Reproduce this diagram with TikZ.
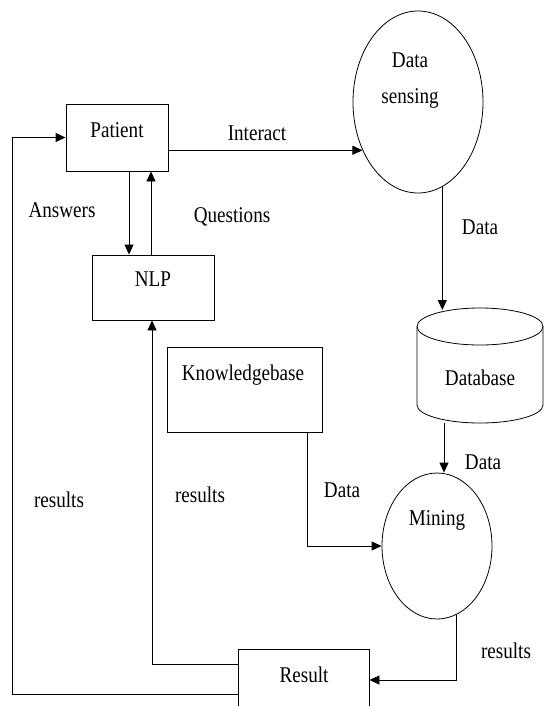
\documentclass[tikz,border=0pt]{standalone}
\usepackage{fontspec}
\setmainfont{Liberation Serif}[FakeStretch=0.85]
\usetikzlibrary{shapes.geometric,arrows.meta}
\begin{document}
\begin{tikzpicture}[x=1pt,y=-1pt,
  box/.style={draw,line width=0.9pt,inner sep=0pt},
  oval/.style={draw,ellipse,line width=0.8pt,inner sep=0pt},
  txt/.style={inner sep=0pt,font=\fontsize{22.5}{26}\selectfont},
  arr/.style={line width=0.9pt,-{Triangle[length=10pt,width=9pt]}},
  ln/.style={line width=0.9pt}]
\clip (0,0) rectangle (544,706);
\fill[white] (0,0) rectangle (544,706);
% boxes
\node[box,minimum width=102pt,minimum height=67pt] (patient) at (117,137.5) {};
\node[txt] (patientT) at (117,130) {Patient};
\node[box,minimum width=122pt,minimum height=65pt] (nlp) at (153,287.5) {};
\node[txt] (nlpT) at (153,279) {NLP};
\node[box,minimum width=155pt,minimum height=85pt] (kb) at (244.5,389.5) {};
\node[txt] (kbT) at (243,375) {Knowledgebase};
\node[box,minimum width=131pt,minimum height=72pt] (result) at (303.5,685) {};
\node[txt] (resultT) at (304,675) {Result};
% ellipses
\node[oval,minimum width=130pt,minimum height=182pt] (ds) at (418,102) {};
\node[txt] (dsT1) at (410,60) {Data};
\node[txt] (dsT2) at (410,98) {sensing};
\node[oval,minimum width=110pt,minimum height=146pt] (mining) at (437,546) {};
\node[txt] (miningT) at (437,520) {Mining};
% database cylinder
\draw[line width=0.8pt] (480,326.5) ellipse [x radius=63pt, y radius=18.5pt];
\draw[line width=0.8pt] (417,326.5) -- (417,405) arc[start angle=180,end angle=360,x radius=63pt,y radius=18pt] -- (543,326.5);
\node[txt] (dbT) at (480,378) {Database};
\coordinate (dbtop) at (442,310);
\coordinate (dbbot) at (444,423);
% connectors
\draw[arr] (patient.east |- ds.221.7) -- (ds.221.7);
\draw[arr] ([xshift=12pt]patient.south) -- ([xshift=-24pt]nlp.north);
\draw[arr] ([xshift=-2pt]nlp.north) -- ([xshift=34pt]patient.south);
\draw[arr] ([yshift=-9pt]result.west) -| ([xshift=-53pt]patient.west) -- (patient.west);
\draw[arr] ([yshift=21pt]result.west) -| ([xshift=-1pt]nlp.south);
\draw[arr] (ds.-74.1) -- (ds.-74.1 |- dbtop);
\draw[arr] (dbbot) -- (dbbot |- mining.north);
\draw[arr] ([xshift=62.5pt]kb.south) |- (mining.west);
\draw[arr] (mining.-74.5) |- ([yshift=5pt]result.east);
% labels
\node[txt] (lInteract) at (257,133) {Interact};
\node[txt] (lAnswers) at (62,210) {Answers};
\node[txt] (lQuestions) at (232,217) {Questions};
\node[txt] (lData1) at (480,227) {Data};
\node[txt] (lData2) at (483,462) {Data};
\node[txt] (lData3) at (342,490) {Data};
\node[txt] (lRes1) at (59,500) {results};
\node[txt] (lRes2) at (200,495) {results};
\node[txt] (lRes3) at (506,651) {results};
\end{tikzpicture}
\end{document}
